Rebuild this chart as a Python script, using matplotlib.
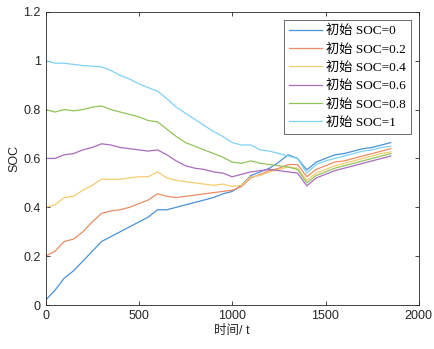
import matplotlib
matplotlib.use('Agg')
import matplotlib.pyplot as plt

# time samples (t) shared by all runs
t = [0, 50, 100, 150, 200, 250, 300, 350, 400, 450, 500, 550, 600, 650,
     700, 750, 800, 850, 900, 950, 1000, 1050, 1100, 1150, 1200, 1250,
     1300, 1350, 1400, 1450, 1500, 1550, 1600, 1650, 1700, 1750, 1800, 1850]

soc_00 = [0.02, 0.06, 0.11, 0.14, 0.18, 0.22, 0.26, 0.28, 0.30, 0.32, 0.34, 0.36, 0.39, 0.39,
          0.40, 0.41, 0.42, 0.43, 0.44, 0.455, 0.465, 0.49, 0.53, 0.545, 0.56, 0.585,
          0.615, 0.60, 0.553, 0.585, 0.60, 0.615, 0.62, 0.63, 0.64, 0.645, 0.655, 0.665]
soc_02 = [0.20, 0.22, 0.26, 0.27, 0.30, 0.34, 0.375, 0.385, 0.39, 0.40, 0.415, 0.43, 0.455, 0.445,
          0.44, 0.445, 0.45, 0.455, 0.46, 0.465, 0.47, 0.485, 0.52, 0.535, 0.55, 0.56,
          0.575, 0.575, 0.525, 0.555, 0.57, 0.585, 0.59, 0.60, 0.61, 0.62, 0.63, 0.64]
soc_04 = [0.40, 0.41, 0.44, 0.445, 0.47, 0.49, 0.515, 0.515, 0.515, 0.52, 0.525, 0.525, 0.545, 0.52,
          0.51, 0.505, 0.50, 0.495, 0.49, 0.495, 0.485, 0.49, 0.525, 0.53, 0.545, 0.555,
          0.565, 0.56, 0.51, 0.54, 0.555, 0.57, 0.58, 0.59, 0.60, 0.61, 0.62, 0.627]
soc_06 = [0.60, 0.60, 0.615, 0.62, 0.635, 0.645, 0.66, 0.655, 0.645, 0.64, 0.635, 0.63, 0.635, 0.615,
          0.59, 0.57, 0.56, 0.555, 0.545, 0.54, 0.525, 0.535, 0.545, 0.55, 0.555, 0.55,
          0.545, 0.54, 0.488, 0.52, 0.535, 0.55, 0.56, 0.57, 0.58, 0.59, 0.60, 0.61]
soc_08 = [0.80, 0.79, 0.80, 0.795, 0.80, 0.81, 0.815, 0.80, 0.79, 0.78, 0.77, 0.755, 0.75, 0.72,
          0.69, 0.665, 0.65, 0.635, 0.62, 0.605, 0.585, 0.58, 0.59, 0.58, 0.575, 0.57,
          0.565, 0.555, 0.50, 0.53, 0.545, 0.56, 0.57, 0.58, 0.59, 0.60, 0.61, 0.62]
soc_10 = [1.00, 0.99, 0.99, 0.985, 0.98, 0.978, 0.975, 0.96, 0.94, 0.925, 0.905, 0.89, 0.875, 0.845,
          0.81, 0.785, 0.76, 0.735, 0.71, 0.69, 0.665, 0.655, 0.655, 0.635, 0.63, 0.62,
          0.61, 0.60, 0.54, 0.575, 0.59, 0.60, 0.61, 0.62, 0.63, 0.635, 0.645, 0.65]

labels = ['初始 SOC=0', '初始 SOC=0.2', '初始 SOC=0.4',
          '初始 SOC=0.6', '初始 SOC=0.8', '初始 SOC=1']
colors = ['#4a92d6', '#ec8c66', '#f5cc6e', '#a86cbd', '#92c45a', '#7fd2f5']

sans = ['Liberation Sans', 'Noto Sans CJK SC']
serif = ['Liberation Serif', 'Noto Sans CJK SC']

fig = plt.figure(figsize=(4.34, 3.49), dpi=100)
ax = fig.add_axes([0.105, 0.126, 0.86, 0.84])

for ys, c, lab in zip([soc_00, soc_02, soc_04, soc_06, soc_08, soc_10], colors, labels):
    ax.plot(t, ys, color=c, lw=0.9, label=lab)

ax.set_xlim(0, 2000)
ax.set_ylim(0, 1.2)
ax.set_xticks([0, 500, 1000, 1500, 2000])
ax.set_yticks([0, 0.2, 0.4, 0.6, 0.8, 1, 1.2])
ax.set_yticklabels(['0', '0.2', '0.4', '0.6', '0.8', '1', '1.2'])
ax.tick_params(direction='in', top=True, right=True, length=3, width=0.6,
               colors='#262626', labelsize=9)
for lbl in ax.get_xticklabels() + ax.get_yticklabels():
    lbl.set_family(sans)
for s in ax.spines.values():
    s.set_color('#262626')
    s.set_linewidth(0.6)

ax.set_xlabel('时间/ t', family=sans, fontsize=9, color='#262626', labelpad=2)
ax.set_ylabel('SOC', family=sans, fontsize=9, color='#262626', labelpad=2)

leg = ax.legend(loc='upper right', prop={'family': serif, 'size': 9.5},
                frameon=True, fancybox=False, edgecolor='#262626',
                handlelength=2.5, labelspacing=0.45, borderaxespad=0.6,
                handletextpad=0.3, borderpad=0.4)
leg.get_frame().set_linewidth(0.6)

fig.savefig('out.png', dpi=100)
